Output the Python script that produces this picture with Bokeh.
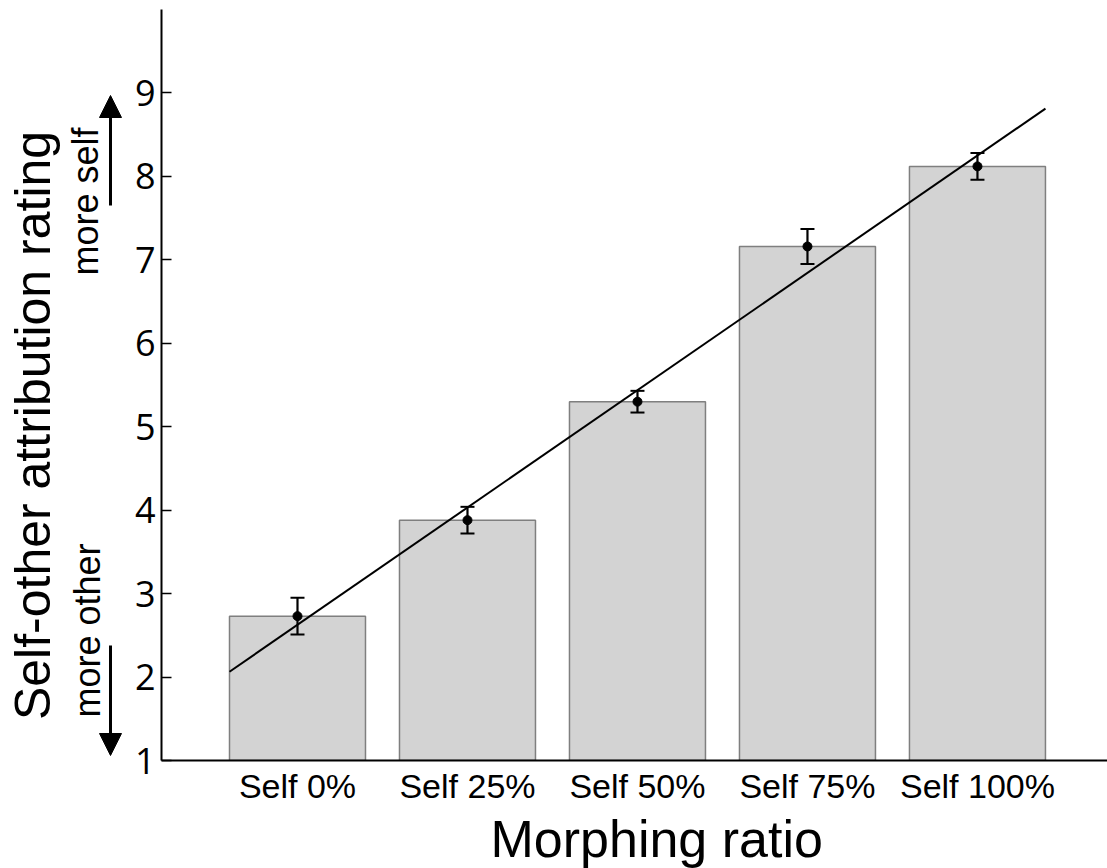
import numpy as np
from bokeh.plotting import figure
from bokeh.layouts import row
from bokeh.models import (ColumnDataSource, FixedTicker, Whisker, TeeHead, Label,
                          Arrow, NormalHead, Range1d, Title)
from bokeh.embed import file_html
from bokeh.resources import INLINE

# Mean self-other attribution rating per morphing level, with standard errors
categories = ["Self 0%", "Self 25%", "Self 50%", "Self 75%", "Self 100%"]
ratings = [2.73, 3.88, 5.30, 7.16, 8.12]
errors = [0.22, 0.16, 0.13, 0.21, 0.16]
y_ticks = [1, 2, 3, 4, 5, 6, 7, 8, 9]

xs = list(range(len(categories)))
bar_width = 0.8
font = "Liberation Sans"

src = ColumnDataSource(dict(
    x=xs, top=ratings,
    upper=[r + e for r, e in zip(ratings, errors)],
    lower=[r - e for r, e in zip(ratings, errors)],
))

# ---- main chart -------------------------------------------------------------
p = figure(width=982, height=868, output_backend="svg", toolbar_location=None,
           x_range=Range1d(-0.8, 4.765), y_range=Range1d(1, 10),
           min_border_left=36, min_border_right=0, min_border_top=9,
           min_border_bottom=108)
p.outline_line_color = None
p.xgrid.visible = False
p.ygrid.visible = False

p.vbar(x="x", top="top", bottom=1, width=bar_width, source=src,
       fill_color="#d3d3d3", line_color="#7f7f7f", line_width=1.5)

# linear fit across the conditions, spanning the outer bar edges
slope, intercept = np.polyfit(xs, ratings, 1)
fx = [xs[0] - bar_width / 2, xs[-1] + bar_width / 2]
p.line(fx, [intercept + slope * v for v in fx], line_color="black", line_width=2)

# error bars and means
p.add_layout(Whisker(source=src, base="x", upper="upper", lower="lower",
                     level="annotation", line_color="black", line_width=2.2,
                     upper_head=TeeHead(size=14, line_color="black", line_width=2),
                     lower_head=TeeHead(size=14, line_color="black", line_width=2)))
p.scatter("x", "top", source=src, size=9, color="black")

p.xaxis.ticker = FixedTicker(ticks=xs)
p.xaxis.major_label_overrides = {i: c for i, c in enumerate(categories)}
p.xaxis.major_tick_line_color = None
p.xaxis.minor_tick_line_color = None
p.xaxis.axis_line_width = 2
p.xaxis.axis_line_color = "black"
p.xaxis.major_label_text_font = font
p.xaxis.major_label_text_font_size = "34px"
p.xaxis.major_label_text_color = "black"
p.xaxis.major_label_standoff = 0

p.yaxis.ticker = FixedTicker(ticks=y_ticks)
p.yaxis.minor_tick_line_color = None
p.yaxis.major_tick_in = 10
p.yaxis.major_tick_out = 0
p.yaxis.major_tick_line_width = 1.5
p.yaxis.major_tick_line_color = "black"
p.yaxis.axis_line_width = 2
p.yaxis.axis_line_color = "black"
p.yaxis.major_label_text_font = "Open Sans"
p.yaxis.major_label_text_font_size = "36px"
p.yaxis.major_label_text_color = "black"
p.yaxis.major_label_standoff = 6

p.add_layout(Title(text="Morphing ratio", align="left", offset=329,
                   text_font=font, text_font_size="52px", text_font_style="normal",
                   text_color="black", standoff=0), "below")

# ---- rating axis title with direction hints ----------------------------------
# pixel-space panel whose frame lines up with the chart's frame (rows 9..760)
side = figure(frame_width=125, frame_height=751, output_backend="svg",
              toolbar_location=None,
              x_range=Range1d(0, 125), y_range=Range1d(760, 9),
              x_axis_location=None, y_axis_location=None,
              min_border_left=0, min_border_right=0,
              min_border_top=9, min_border_bottom=108)
side.grid.visible = False
side.outline_line_color = None

side.add_layout(Label(x=32, y=425, text="Self-other attribution rating",
                      angle=np.pi / 2, text_font=font, text_font_size="50px",
                      text_align="center", text_baseline="alphabetic",
                      text_color="black"))
side.add_layout(Label(x=85, y=201, text="more self", angle=np.pi / 2,
                      text_font=font, text_font_size="36px", text_align="center",
                      text_baseline="alphabetic", text_color="black"))
side.add_layout(Label(x=87, y=630, text="more other", angle=np.pi / 2,
                      text_font=font, text_font_size="36px", text_align="center",
                      text_baseline="alphabetic", text_color="black"))
side.add_layout(Arrow(x_start=110, y_start=205, x_end=110, y_end=95, line_width=3,
                      end=NormalHead(size=22, fill_color="black", line_color="black")))
side.add_layout(Arrow(x_start=110, y_start=645, x_end=110, y_end=755, line_width=3,
                      end=NormalHead(size=22, fill_color="black", line_color="black")))

layout = row(side, p, spacing=0)
open("out.html", "w").write(file_html(layout, INLINE))
